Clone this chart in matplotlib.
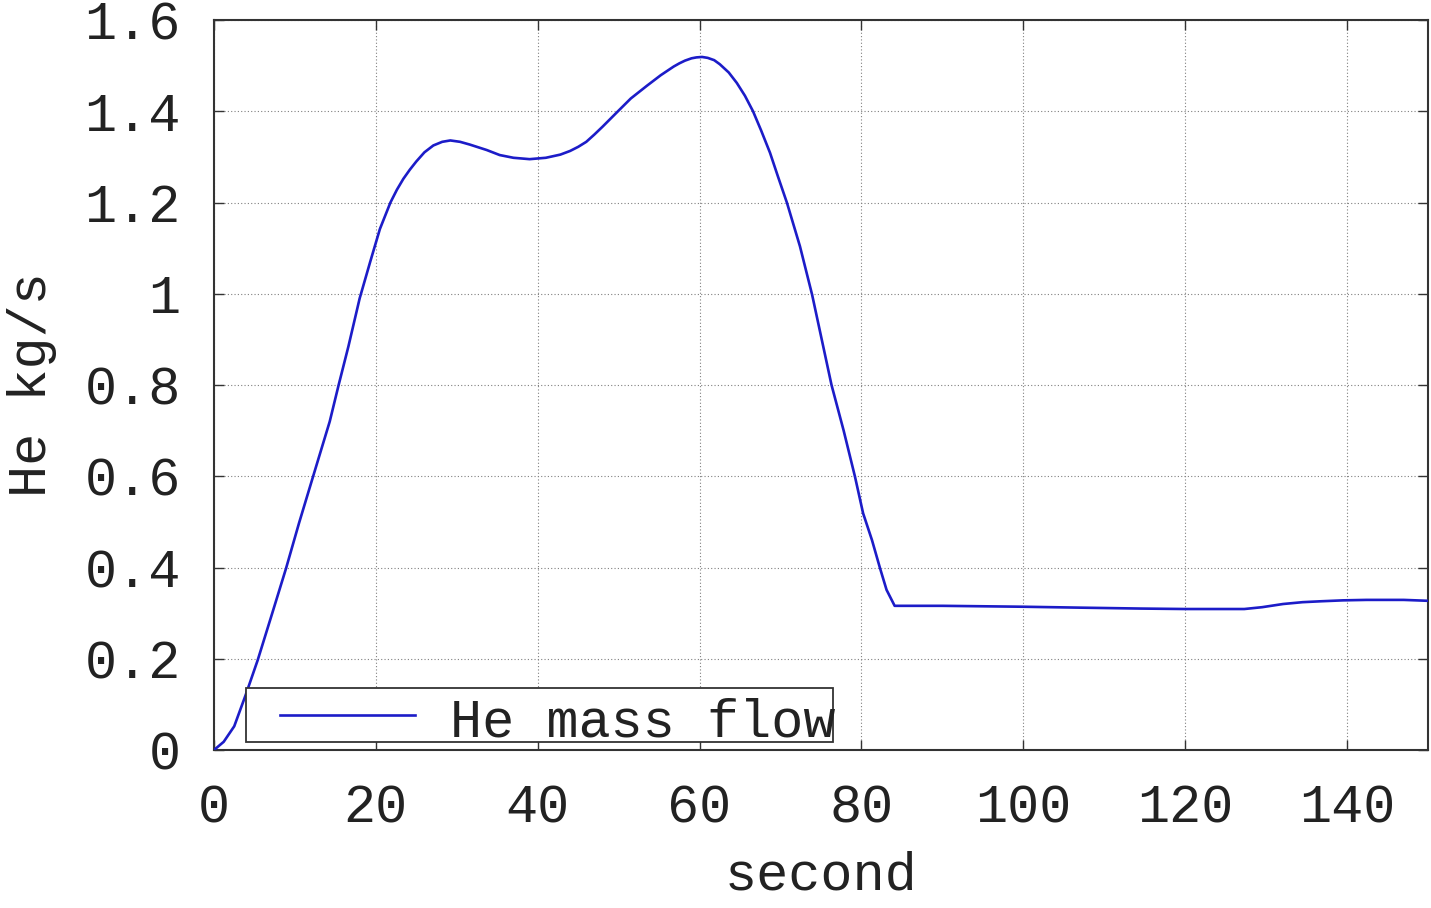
import matplotlib
matplotlib.use("Agg")
from matplotlib import pyplot as plt
from matplotlib.patches import Rectangle
from matplotlib.lines import Line2D


LINE_COLOR = "#1c1cc8"
TEXT_COLOR = "#222222"
GRID_COLOR = "#808080"

# He mass flow (time in s, kg/s)
seconds = [0, 1.2, 2.5, 3.9, 5.4, 7.2, 8.9, 10.5, 12.2, 13.6, 14.3, 15.4,
           16.6, 18.0, 19.3, 20.5, 21.8, 22.6, 23.4, 24.2, 25.0, 26.0, 27.1,
           28.2, 29.2, 30.4, 31.6, 33.7, 35.3, 37.0, 39.0, 41.0, 42.8, 44.0,
           45.0, 46.0, 47.0, 48.0, 49.8, 51.5, 53.5, 55.2, 56.8, 57.5, 58.2,
           59.0, 59.6, 60.3, 61.0, 61.8, 62.5, 63.6, 64.6, 65.6, 66.6, 67.6,
           68.7, 69.7, 70.8, 72.4, 73.9, 75.1, 76.3, 77.8, 79.2, 80.2, 81.3,
           82.3, 83.1, 84.1, 90, 100, 107, 114.5, 120, 127.3, 129.5, 132.1,
           134.5, 136.8, 139.5, 142.4, 147, 150]
mass_flow = [0, 0.018, 0.052, 0.12, 0.197, 0.300, 0.398, 0.497, 0.597,
             0.679, 0.72, 0.80, 0.884, 0.99, 1.07, 1.142, 1.200, 1.228,
             1.252, 1.272, 1.290, 1.310, 1.325, 1.333, 1.336, 1.333, 1.327,
             1.315, 1.304, 1.298, 1.295, 1.298, 1.305, 1.313, 1.322, 1.333,
             1.349, 1.366, 1.398, 1.428, 1.456, 1.479, 1.498, 1.505, 1.511,
             1.516, 1.518, 1.519, 1.517, 1.512, 1.503, 1.485, 1.462, 1.434,
             1.400, 1.358, 1.309, 1.256, 1.199, 1.104, 0.998, 0.899, 0.80,
             0.70, 0.599, 0.519, 0.46, 0.398, 0.351, 0.316, 0.316, 0.314,
             0.312, 0.310, 0.309, 0.309, 0.313, 0.320, 0.324, 0.326, 0.328,
             0.329, 0.329, 0.327]

x_ticks = [0, 20, 40, 60, 80, 100, 120, 140]
y_ticks = [0, 0.2, 0.4, 0.6, 0.8, 1.0, 1.2, 1.4, 1.6]
y_tick_labels = ["0", "0.2", "0.4", "0.6", "0.8", "1", "1.2", "1.4", "1.6"]
series_label = "He mass flow"

plt.rcParams["font.family"] = ["Liberation Mono", "DejaVu Sans Mono"]
FONT_SIZE = 38.5

fig = plt.figure(figsize=(14.31, 9.08), dpi=100)
ax = fig.add_axes([214 / 1431, 158 / 908, 1214 / 1431, 730 / 908])

ax.plot(seconds, mass_flow, color=LINE_COLOR, linewidth=1.9, zorder=4)

ax.set_xlim(0, 150)
ax.set_ylim(0, 1.6)
ax.set_xticks(x_ticks)
ax.set_yticks(y_ticks)
ax.set_yticklabels(y_tick_labels)
ax.tick_params(direction="in", length=7, width=1.0, color="#333333",
               labelsize=FONT_SIZE, labelcolor=TEXT_COLOR, pad=24,
               top=True, right=True)
ax.grid(True, color=GRID_COLOR, linestyle=(0, (1, 2)), linewidth=0.8)
for spine in ax.spines.values():
    spine.set_linewidth(1.5)
    spine.set_color("#333333")

ax.set_xlabel("second", fontsize=FONT_SIZE, color=TEXT_COLOR, labelpad=12)
ax.set_ylabel("He kg/s", fontsize=FONT_SIZE, color=TEXT_COLOR, labelpad=20)

# Legend box drawn by hand so the padding matches the original layout
ax.add_patch(Rectangle((0.0264, 0.011), 0.4835, 0.0739, transform=ax.transAxes,
                       facecolor="white", edgecolor="#333333", linewidth=1.3,
                       zorder=5))
ax.add_line(Line2D([0.0544, 0.1656], [0.048, 0.048], transform=ax.transAxes,
                   color=LINE_COLOR, linewidth=1.9, zorder=6))
ax.text(0.1944, 0.018, series_label, transform=ax.transAxes,
        fontsize=FONT_SIZE, color=TEXT_COLOR, va="baseline", ha="left",
        zorder=6)

plt.savefig("out.png", dpi=100)
